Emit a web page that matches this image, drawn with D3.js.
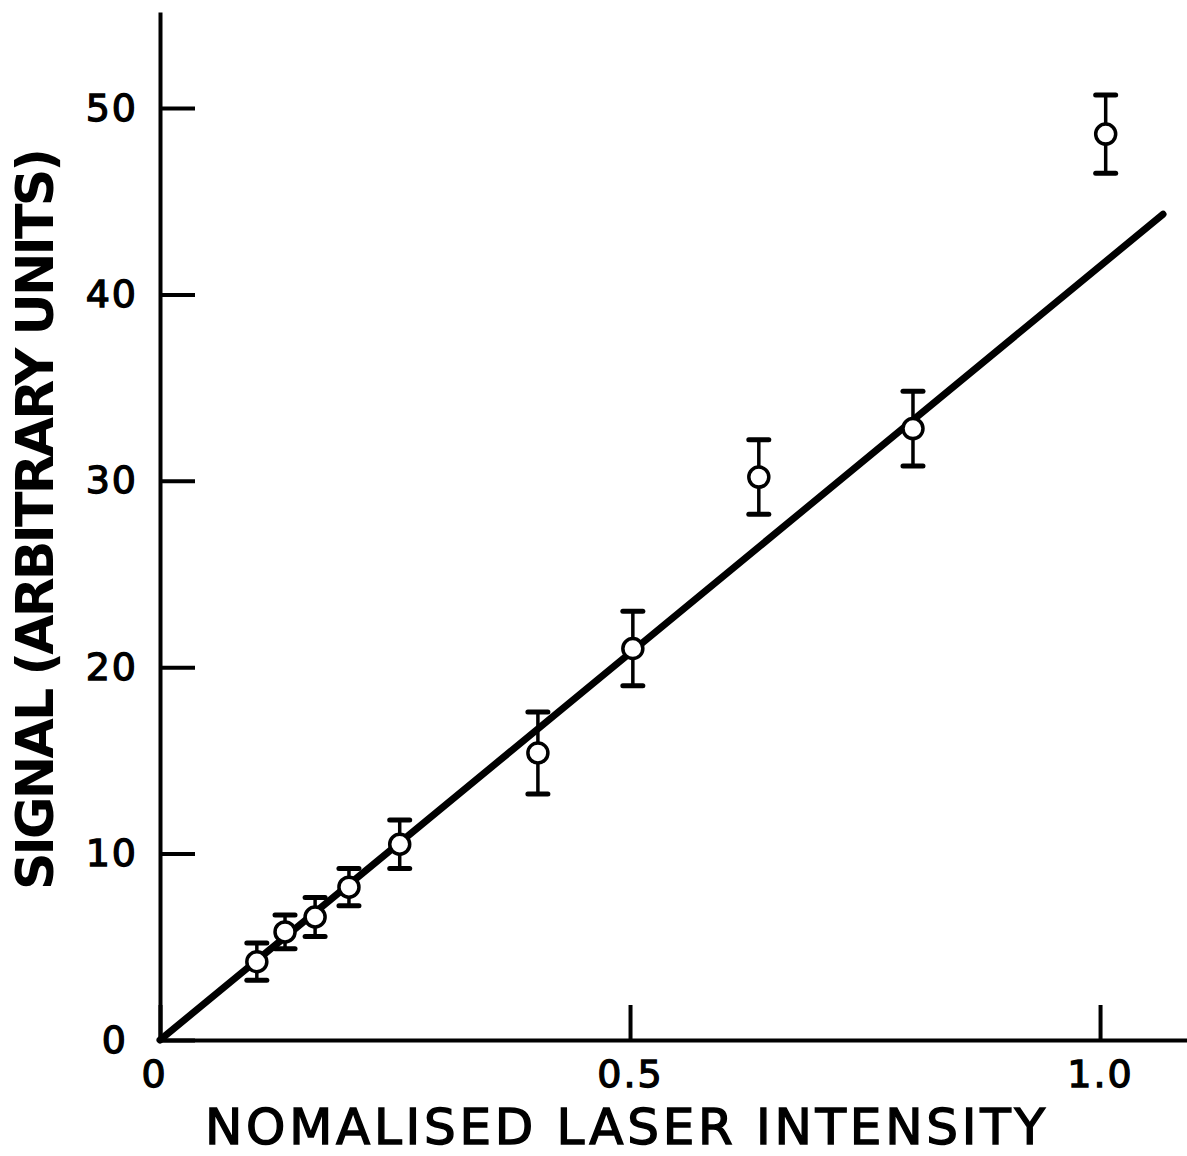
<!DOCTYPE html>
<html>
<head>
<meta charset="utf-8">
<script src="https://cdn.jsdelivr.net/npm/d3@7"></script>
<style>
  body { margin: 0; background: #fff; }
</style>
</head>
<body>
<div id="chart"></div>
<script>
// values
const intensity = [0.103, 0.133, 0.165, 0.201, 0.255, 0.402, 0.503, 0.637, 0.801, 1.006];
const signal = [4.2, 5.8, 6.6, 8.2, 10.5, 15.4, 21.0, 30.2, 32.8, 48.6];
const signalErr = [1.0, 0.9, 1.05, 1.0, 1.3, 2.2, 2.0, 2.0, 2.0, 2.1];

// straight fit line through origin
const fitX = [0, 1.067];
const fitY = [0, 44.3];

const xTicks = [0, 0.5, 1.0];
const xTickLabels = ["0", "0.5", "1.0"];
const yTicks = [0, 10, 20, 30, 40, 50];

const W = 1187, H = 1156;

const svg = d3.select("#chart")
  .append("svg")
  .attr("width", W)
  .attr("height", H);

const x = d3.scaleLinear().domain([0, 1.0925]).range([160, 1187]);
const y = d3.scaleLinear().domain([0, 55.15]).range([1040, 12]);

const font = "'DejaVu Sans', sans-serif";

// x axis, ticks pointing up into the plot
const xAxis = svg.append("g")
  .attr("transform", `translate(0,${y(0)})`)
  .call(d3.axisBottom(x)
    .tickValues(xTicks)
    .tickFormat((d, i) => xTickLabels[i])
    .tickSizeInner(-35)
    .tickSizeOuter(0)
    .tickPadding(20));

// y axis, ticks pointing right into the plot
const yAxis = svg.append("g")
  .attr("transform", `translate(${x(0)},0)`)
  .call(d3.axisLeft(y)
    .tickValues(yTicks)
    .tickSizeInner(-35)
    .tickSizeOuter(0)
    .tickPadding(22));

[xAxis, yAxis].forEach(ax => {
  ax.select(".domain").attr("stroke", "#000").attr("stroke-width", 4);
  ax.selectAll(".tick line").attr("stroke", "#000").attr("stroke-width", 4);
  ax.selectAll(".tick text")
    .attr("fill", "#000")
    .attr("stroke", "#000")
    .attr("stroke-width", 1.3)
    .style("font-family", font)
    .style("font-size", "38px")
    .attr("letter-spacing", "2px");
});
// the zeros sit a little off the corner
xAxis.selectAll(".tick text").filter(d => d === 0).attr("dx", "-6");
yAxis.selectAll(".tick text").filter(d => d === 0).attr("dx", "-10");

// fitted line
const line = d3.line().x(d => x(d[0])).y(d => y(d[1]));
svg.append("path")
  .datum(fitX.map((v, i) => [v, fitY[i]]))
  .attr("d", line)
  .attr("fill", "none")
  .attr("stroke", "#000")
  .attr("stroke-width", 7)
  .attr("stroke-linecap", "round");

// error bars + points
const pts = intensity.map((v, i) => ({ x: v, y: signal[i], e: signalErr[i] }));

const g = svg.append("g").selectAll("g")
  .data(pts)
  .join("g");

g.append("line")
  .attr("x1", d => x(d.x)).attr("x2", d => x(d.x))
  .attr("y1", d => y(d.y + d.e)).attr("y2", d => y(d.y - d.e))
  .attr("stroke", "#000").attr("stroke-width", 3.5);

g.selectAll("line.cap")
  .data(d => [[d.x, d.y + d.e], [d.x, d.y - d.e]])
  .join("line")
  .attr("class", "cap")
  .attr("x1", d => x(d[0]) - 10).attr("x2", d => x(d[0]) + 10)
  .attr("y1", d => y(d[1])).attr("y2", d => y(d[1]))
  .attr("stroke", "#000").attr("stroke-width", 5)
  .attr("stroke-linecap", "round");

g.append("circle")
  .attr("cx", d => x(d.x))
  .attr("cy", d => y(d.y))
  .attr("r", 10)
  .attr("fill", "#fff")
  .attr("stroke", "#000")
  .attr("stroke-width", 3.5);

// axis titles
svg.append("text")
  .attr("x", 205)
  .attr("y", 1144)
  .attr("textLength", 840)
  .attr("lengthAdjust", "spacing")
  .style("font-family", font)
  .style("font-size", "50px")
  .attr("stroke", "#000")
  .attr("stroke-width", 1.4)
  .text("NOMALISED LASER INTENSITY");

svg.append("text")
  .attr("transform", "translate(53,890) rotate(-90)")
  .attr("textLength", 742)
  .attr("lengthAdjust", "spacing")
  .style("font-family", font)
  .style("font-size", "52px")
  .style("font-weight", "bold")
  .text("SIGNAL (ARBITRARY UNITS)");
</script>
</body>
</html>
